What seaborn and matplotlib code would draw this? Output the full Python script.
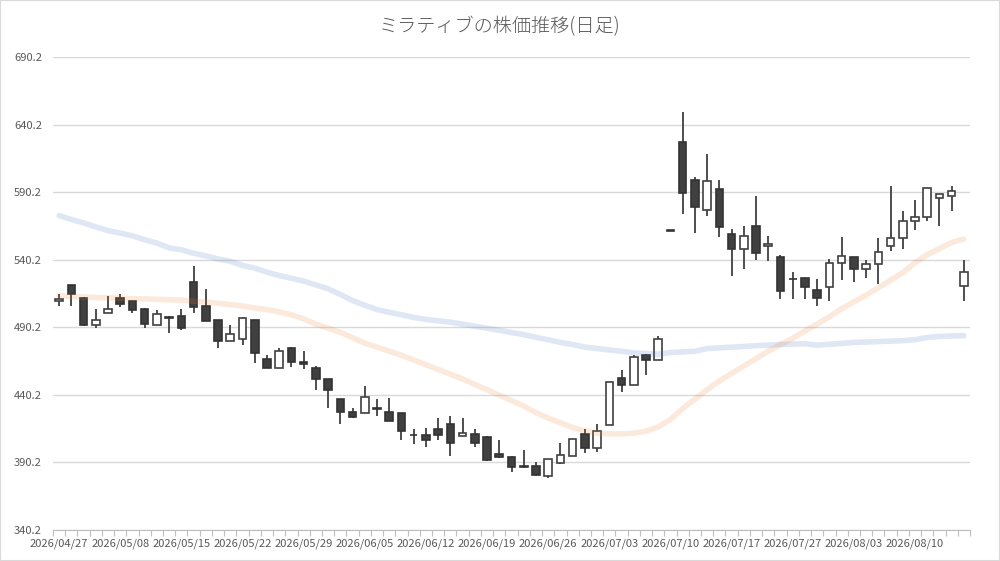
import numpy as np
import pandas as pd
import matplotlib
matplotlib.use('Agg')
import matplotlib.pyplot as plt
from matplotlib.patches import Rectangle
import seaborn as sns

# daily OHLC (75 trading days)
opens = [509.7, 521.4, 512.2, 491.9, 501.1, 512.2, 509.7, 504.0, 491.9, 497.8,
         498.8, 523.4, 506.3, 495.4, 480.3, 481.7, 495.4, 467.1, 460.2, 475.1,
         464.7, 460.2, 452.0, 437.3, 427.5, 426.8, 430.6, 427.5, 426.8, 410.6,
         410.4, 415.1, 418.7, 410.0, 410.9, 409.2, 396.1, 393.9, 387.3, 387.8,
         380.0, 389.5, 395.3, 410.9, 401.2, 417.8, 452.4, 447.6, 469.9, 466.0,
         562.2, 627.4, 599.4, 577.3, 592.8, 559.6, 548.0, 564.8, 550.0, 541.9,
         526.2, 526.7, 518.0, 520.0, 537.7, 542.2, 533.3, 537.0, 550.3, 556.2,
         568.8, 571.5, 585.8, 587.2, 520.5]
highs = [514.7, 521.6, 512.5, 504.0, 513.0, 515.2, 509.9, 504.2, 503.0, 498.6,
         504.0, 535.2, 518.2, 495.6, 492.1, 497.5, 495.6, 469.9, 475.1, 475.3,
         472.8, 461.4, 452.2, 437.5, 430.4, 446.8, 437.0, 437.8, 427.0, 415.1,
         415.6, 423.1, 424.8, 423.1, 415.1, 409.4, 406.5, 395.1, 399.2, 390.7,
         392.6, 404.3, 407.5, 415.1, 418.7, 449.7, 458.5, 469.7, 470.1, 483.9,
         562.2, 649.3, 601.4, 618.6, 598.9, 562.6, 565.0, 587.1, 557.7, 543.6,
         531.0, 526.9, 525.9, 540.7, 556.7, 542.4, 539.7, 556.2, 594.9, 576.4,
         584.5, 593.4, 588.9, 595.1, 540.2]
lows = [506.0, 506.0, 491.5, 489.7, 501.0, 505.5, 501.1, 489.7, 491.7, 486.2,
        488.2, 500.6, 495.0, 474.8, 480.0, 477.0, 463.9, 460.0, 460.0, 460.9,
        459.7, 443.6, 430.5, 418.5, 423.4, 426.6, 424.3, 420.7, 406.8, 403.6,
        401.7, 406.8, 395.1, 409.8, 401.7, 390.9, 393.7, 382.9, 386.3, 380.0,
        378.7, 389.3, 395.1, 396.8, 398.2, 417.6, 442.6, 447.4, 454.7, 465.8,
        561.2, 574.4, 560.1, 572.6, 557.2, 528.4, 533.1, 540.0, 539.5, 511.4,
        511.0, 511.1, 505.7, 509.4, 524.9, 523.5, 526.4, 522.5, 546.4, 548.1,
        562.4, 568.5, 564.8, 575.9, 509.4]
closes = [511.5, 515.2, 491.9, 495.9, 504.0, 507.3, 503.0, 492.6, 500.3, 497.1,
          489.7, 505.5, 495.1, 480.3, 485.5, 497.3, 471.1, 460.2, 472.8, 464.4,
          463.2, 452.0, 443.6, 427.5, 423.6, 438.5, 430.0, 420.9, 413.6, 410.2,
          407.0, 410.4, 404.8, 412.2, 404.8, 392.2, 393.9, 386.5, 386.5, 381.2,
          392.4, 395.6, 407.3, 401.2, 413.6, 449.5, 447.3, 468.2, 465.8, 481.5,
          561.2, 589.8, 579.3, 598.7, 564.5, 547.8, 557.4, 544.9, 551.8, 517.4,
          525.8, 520.0, 511.9, 537.7, 542.7, 533.3, 537.0, 545.9, 556.2, 569.0,
          571.7, 593.2, 588.7, 590.7, 531.1]

# moving averages as drawn
ma_long = [572.9, 570.0, 567.5, 564.5, 561.8, 560.0, 557.8, 555.0, 552.5, 549.0,
           547.5, 545.0, 543.0, 540.8, 539.0, 536.0, 534.0, 531.0, 528.5, 526.5,
           524.4, 521.5, 518.7, 514.5, 510.0, 506.5, 503.3, 501.3, 499.5, 497.5,
           496.0, 495.0, 494.0, 492.5, 491.0, 489.5, 488.0, 486.3, 484.8, 482.8,
           481.0, 479.0, 477.5, 475.5, 474.5, 473.4, 472.5, 471.3, 470.8, 470.3,
           471.5, 472.0, 472.5, 474.5, 475.0, 475.5, 476.0, 476.6, 477.0, 477.5,
           477.8, 478.0, 477.0, 477.6, 478.3, 479.0, 479.3, 479.6, 480.0, 480.3,
           481.0, 482.7, 483.4, 483.8, 484.0]
ma_short = [513.7, 513.0, 512.6, 512.3, 512.0, 511.8, 511.4, 511.2, 510.9, 510.6,
            510.3, 509.5, 508.8, 508.0, 507.0, 506.0, 504.5, 503.3, 501.5, 499.5,
            496.5, 492.5, 489.5, 486.5, 482.5, 478.5, 475.5, 472.5, 469.5, 466.0,
            462.5, 459.0, 455.5, 452.0, 448.0, 444.0, 440.0, 436.0, 432.0, 427.0,
            423.0, 419.5, 416.0, 413.5, 411.8, 411.3, 411.3, 411.8, 413.3, 416.5,
            422.0, 430.0, 437.0, 444.0, 450.5, 456.0, 461.5, 467.0, 472.5, 477.5,
            482.0, 487.5, 492.5, 498.0, 504.0, 509.0, 514.0, 519.5, 525.0, 530.5,
            538.0, 544.0, 548.5, 553.0, 555.5]

date_labels = ['2026/04/27', '2026/05/08', '2026/05/15', '2026/05/22', '2026/05/29',
               '2026/06/05', '2026/06/12', '2026/06/19', '2026/06/26', '2026/07/03',
               '2026/07/10', '2026/07/17', '2026/07/27', '2026/08/03', '2026/08/10']
y_ticks = [340.2, 390.2, 440.2, 490.2, 540.2, 590.2, 640.2, 690.2]

df = pd.DataFrame({'open': opens, 'high': highs, 'low': lows, 'close': closes,
                   'ma_long': ma_long, 'ma_short': ma_short})
df['i'] = np.arange(len(df))
df['bottom'] = df[['open', 'close']].min(axis=1)
df['height'] = (df['close'] - df['open']).abs()
up = df['close'] >= df['open']

sns.set_theme(style='white')
plt.rcParams['font.family'] = ['Noto Sans CJK JP', 'DejaVu Sans']

fig = plt.figure(figsize=(10, 5.61), dpi=100)
ax = fig.add_axes([0.053, 0.0553, 0.917, 0.843])

dark = '#404040'
ax.vlines(df['i'], df['low'], df['high'], color=dark, lw=1.3, zorder=2)
ax.bar(df['i'][up], df['height'][up], bottom=df['bottom'][up], width=0.62,
       facecolor='white', edgecolor=dark, lw=1.2, zorder=3)
ax.bar(df['i'][~up], df['height'][~up], bottom=df['bottom'][~up], width=0.62,
       facecolor=dark, edgecolor='#333333', lw=1.2, zorder=3)

sns.lineplot(x='i', y='ma_long', data=df, color='#4472C4', alpha=0.17, lw=4,
             ax=ax, zorder=4)
sns.lineplot(x='i', y='ma_short', data=df, color='#ED7D31', alpha=0.17, lw=4,
             ax=ax, zorder=4)

ax.set_xlim(-0.5, len(df) - 0.5)
ax.set_ylim(340.2, 690.2)
ax.set_yticks(y_ticks)
ax.set_yticklabels(['%.1f' % v for v in y_ticks])
ax.set_xticks(np.arange(0, len(df), 5))
ax.set_xticklabels(date_labels)
ax.set_xticks(np.arange(-0.5, len(df), 1), minor=True)
ax.tick_params(axis='x', which='major', length=0, pad=6, labelsize=8, colors='#595959')
ax.tick_params(axis='x', which='minor', length=4, width=0.8, color='#bfbfbf', bottom=True)
ax.tick_params(axis='y', length=0, pad=8, labelsize=8, colors='#595959')
ax.yaxis.grid(True, color='#d9d9d9', lw=1)
ax.set_axisbelow(True)
for s in ['top', 'right', 'left']:
    ax.spines[s].set_visible(False)
ax.spines['bottom'].set_color('#bfbfbf')
ax.spines['bottom'].set_linewidth(0.8)
ax.set_xlabel('')
ax.set_ylabel('')

fig.text(0.5, 0.952, 'ミラティブの株価推移(日足)', ha='center', va='center',
         fontsize=13.8, color='#595959', fontweight='light')
fig.patches.append(Rectangle((0, 0), 1, 1, transform=fig.transFigure, fill=False,
                             edgecolor='#d9d9d9', lw=1.5))

fig.savefig('out.png', dpi=100)
